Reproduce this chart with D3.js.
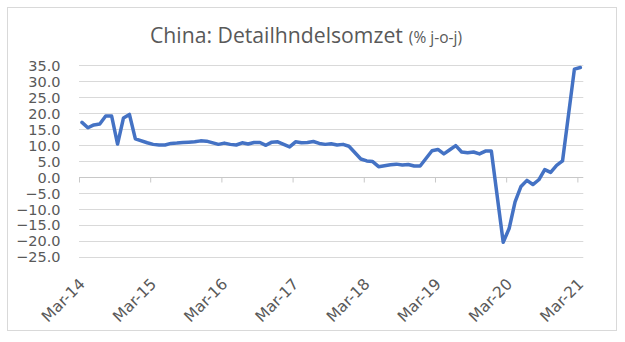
<!DOCTYPE html>
<html>
<head>
<meta charset="utf-8">
<script src="https://cdn.jsdelivr.net/npm/d3@7"></script>
<style>
  html, body { margin: 0; padding: 0; background: #ffffff; }
  svg { display: block; }
</style>
</head>
<body>
<svg id="chart" width="625" height="342"></svg>
<script>
// ---- Data ----
const titleMain = "China: Detailhndelsomzet";
const titleSub = "(% j-o-j)";
const firstMonth = [2014, 2];   // March 2014
const monthCount = 85;          // Mar-14 .. Mar-21
// Monthly values, Mar-14 .. Mar-21 (null = January, not published separately)
const values2014 = [17.1, 15.4, 16.3, 16.6, 19.1, 19.1, 10.3, 18.5, 19.6, 11.9];
const values2015 = [null, 10.7, 10.2, 10.0, 10.0, 10.5, 10.6, 10.8, 10.9, 11.0, 11.3, 11.2];
const values2016 = [null, 10.2, 10.6, 10.2, 10.0, 10.7, 10.3, 10.8, 10.8, 9.9, 10.9, 11.0];
const values2017 = [null, 9.4, 11.0, 10.7, 10.8, 11.1, 10.5, 10.2, 10.4, 10.0, 10.2, 9.6];
const values2018 = [null, 5.6, 5.0, 4.8, 3.2, 3.5, 3.8, 4.0, 3.7, 3.9, 3.4, 3.4];
const values2019 = [null, 8.2, 8.6, 7.2, 8.5, 9.8, 7.8, 7.6, 7.8, 7.2, 8.1, 8.1];
const values2020 = [null, -20.5, -16.2, -7.8, -3.0, -1.1, -2.4, -0.9, 2.3, 1.4, 3.6, 5.0];
const values2021 = [null, 33.8, 34.3];
const yTicks = [-25, -20, -15, -10, -5, 0, 5, 10, 15, 20, 25, 30, 35];
const xTickLabels = ["Mar-14", "Mar-15", "Mar-16", "Mar-17", "Mar-18", "Mar-19", "Mar-20", "Mar-21"];

// ---- Build series ----
const allValues = [].concat(values2014, values2015, values2016, values2017, values2018, values2019, values2020, values2021);
const months = d3.range(monthCount).map(i => new Date(firstMonth[0], firstMonth[1] + i, 1));
const series = months.map((d, i) => ({ i, date: d, v: allValues[i] }));

// ---- Layout ----
const svg = d3.select("#chart");
const W = 625, H = 342;
const plot = { left: 79, right: 583.3, top: 65.3, bottom: 256.6 };

svg.append("rect").attr("x", 0).attr("y", 0).attr("width", W).attr("height", H).attr("fill", "#ffffff");
svg.append("rect")
  .attr("x", 7.5).attr("y", 7.5).attr("width", 609).attr("height", 323)
  .attr("fill", "#ffffff").attr("stroke", "#d9d9d9").attr("stroke-width", 1);

const x = d3.scaleLinear().domain([-0.5, monthCount - 0.5]).range([plot.left, plot.right]);
const y = d3.scaleLinear().domain([-25, 35]).range([plot.bottom, plot.top]);

// Title
const title = svg.append("text")
  .attr("x", 150).attr("y", 43)
  .attr("font-family", "'Open Sans', sans-serif")
  .attr("fill", "#595959");
title.append("tspan").attr("font-size", 21.2).text(titleMain);
title.append("tspan").attr("font-size", 15.5).attr("dx", 6).text(titleSub);

// Gridlines
svg.append("g")
  .selectAll("line")
  .data(yTicks.filter(t => t !== 0))
  .join("line")
  .attr("x1", plot.left).attr("x2", plot.right)
  .attr("y1", d => Math.round(y(d)) + 0.5).attr("y2", d => Math.round(y(d)) + 0.5)
  .attr("stroke", "#d9d9d9").attr("stroke-width", 1);

// Y axis labels
const yAxis = d3.axisLeft(y).tickValues(yTicks).tickFormat(d3.format(".1f")).tickSize(0).tickPadding(0);
const gy = svg.append("g").attr("transform", `translate(${60.5},0)`).call(yAxis);
gy.select(".domain").remove();
gy.selectAll("text")
  .attr("font-family", "'DejaVu Sans', sans-serif")
  .attr("font-size", 14.5)
  .attr("fill", "#595959")
  .attr("dy", "0.36em");

// X axis at zero
const yearTickIdx = xTickLabels.map((_, k) => k * 12);
const xAxis = d3.axisBottom(x)
  .tickValues(yearTickIdx.map(i => i - 0.5))
  .tickSize(5)
  .tickFormat("");
const gx = svg.append("g").attr("transform", `translate(0,${Math.round(y(0)) + 0.5})`).call(xAxis);
gx.select(".domain").attr("stroke", "#c8c8c8").attr("d", `M${plot.left},0H${plot.right}`);
gx.selectAll(".tick line").attr("stroke", "#c8c8c8");

// X labels (low position, rotated)
svg.append("g")
  .selectAll("text")
  .data(xTickLabels)
  .join("text")
  .attr("transform", (d, k) => `translate(${x(yearTickIdx[k] - 0.5) + 7},${285}) rotate(-45)`)
  .attr("text-anchor", "end")
  .attr("font-family", "'DejaVu Sans', sans-serif")
  .attr("font-size", 15.5)
  .attr("fill", "#595959")
  .text(d => d);

// Line (January gaps are bridged, as in the source)
const line = d3.line()
  .x(d => x(d.i))
  .y(d => y(d.v));
svg.append("path")
  .datum(series.filter(d => d.v !== null))
  .attr("d", line)
  .attr("fill", "none")
  .attr("stroke", "#4472c4")
  .attr("stroke-width", 3.5)
  .attr("stroke-linejoin", "round")
  .attr("stroke-linecap", "round");
</script>
</body>
</html>
